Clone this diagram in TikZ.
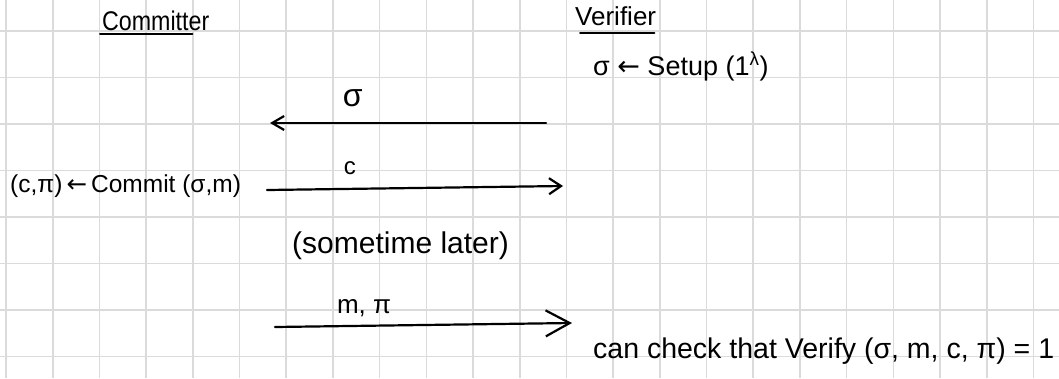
\documentclass[tikz,border=0pt]{standalone}
\usepackage{fontspec}
\setmainfont{Liberation Sans}
\newfontfamily\narrowhand{Liberation Sans}[FakeStretch=0.86]
\newfontfamily\arrowfont{DejaVu Sans}
\newcommand\getsarrow{{\arrowfont ←}}
\usetikzlibrary{arrows.meta}

\tikzset{
  hand/.style={inner sep=0pt,anchor=base west,font=\fontsize{#1}{#1}\selectfont},
  hand/.default=24,
  narrow/.style={inner sep=0pt,anchor=base west,font=\narrowhand\fontsize{#1}{#1}\selectfont},
  lbl/.style={inner sep=0pt,font=\fontsize{#1}{#1}\selectfont},
  lbl/.default=24,
  msg/.style={line width=2.2pt,line cap=round},
  uline/.style={line width=2pt,line cap=round},
  paper/.style={draw=black!14,line width=1.6pt}
}

\begin{document}
\begin{tikzpicture}[x=1pt,y=-1pt]
\useasboundingbox[fill=white] (0,0) rectangle (1059,378);
% squared paper
\foreach \i in {0,...,22}
  \draw[paper] ({6+46.7*\i},0) -- ({6+46.7*\i},378);
\foreach \j in {0,...,7}
  \draw[paper] (0,{31+46.5*\j}) -- (1059,{31+46.5*\j});

% the two parties
\node[narrow=27] (committer) at (102,30) {Committer};
\node[hand=26] (verifier) at (575,25) {Verifier};
\draw[uline] ([yshift=-4pt,xshift=-2pt]committer.base west) -- ([yshift=-4pt,xshift=-17pt]committer.base east);
\draw[uline] ([yshift=-8pt,xshift=5pt]verifier.base west) -- ([yshift=-8pt,xshift=-2pt]verifier.base east);

% what each side computes
\node[hand=27] (setup) at (593,75) {σ \getsarrow\ Setup (1\textsuperscript{λ})};
\node[hand=24.5] (commit) at (10,192) {(c,π)\,\getsarrow\,Commit (σ,m)};
\node[hand=30] (later) at (292,253) {(sometime later)};
\node[hand=28.5] (verify) at (593,358) {can check that Verify (σ, m, c, π) = 1};

% messages
\coordinate (sig0) at (546,123); \coordinate (sig1) at (270,123);
\coordinate (c0) at (267,190);   \coordinate (c1) at (563,186);
\coordinate (mp0) at (275,327);  \coordinate (mp1) at (572,323);
\draw[msg,-{Straight Barb[length=12pt,width=14pt]}] (sig0) -- node[lbl=32,pos=.7,above=15pt]{σ} (sig1);
\draw[msg,-{Straight Barb[length=12pt,width=16pt]}] (c0) -- node[lbl,pos=.28,above=13pt]{c} (c1);
\draw[msg,-{Straight Barb[length=24pt,width=26pt]}] (mp0) -- node[lbl=26,pos=.3,above=8pt]{m, π} (mp1);
\end{tikzpicture}
\end{document}
